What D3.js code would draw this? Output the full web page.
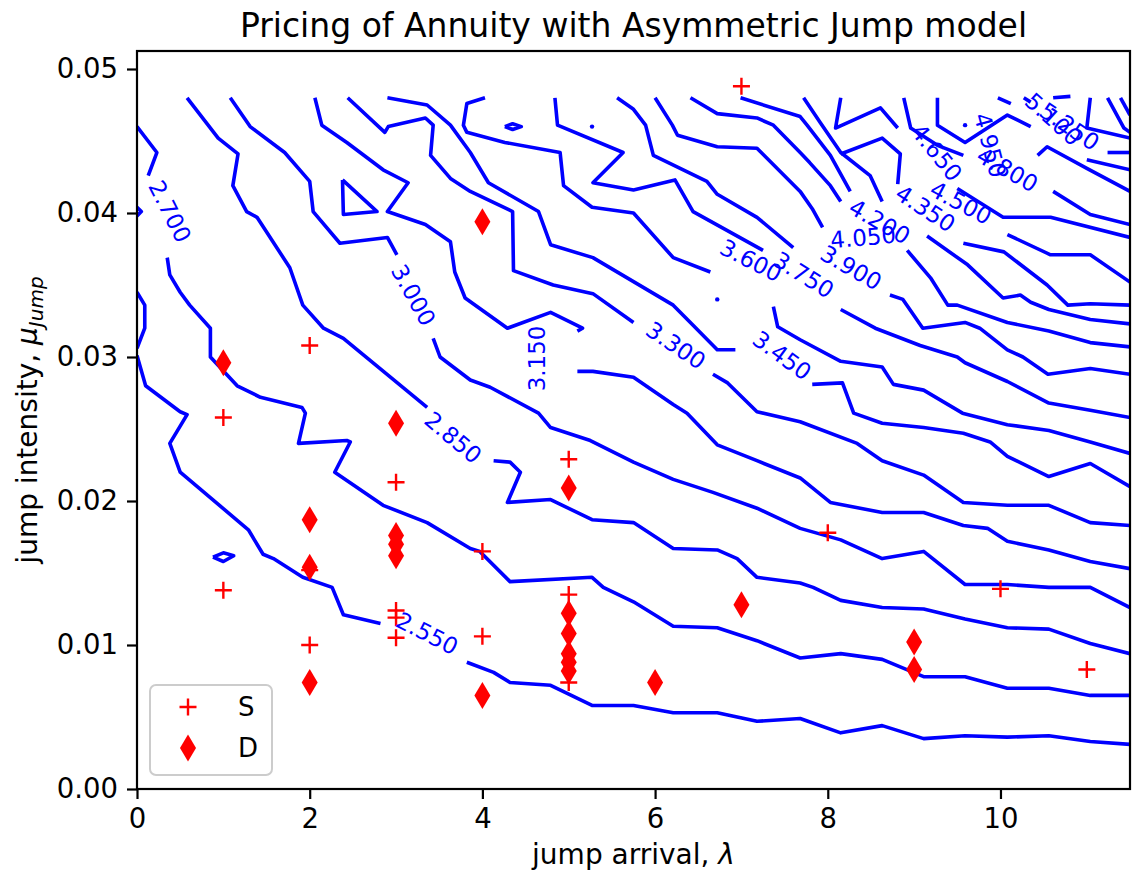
<!DOCTYPE html>
<html>
<head>
<meta charset="utf-8">
<script src="https://cdn.jsdelivr.net/npm/d3@7"></script>
<style>
  body { margin: 0; background: #fff; }
  text { font-family: "DejaVu Sans", sans-serif; }
</style>
</head>
<body>
<svg id="canvas"></svg>
<script>
// ---- data ----
const xTicks = [0, 2, 4, 6, 8, 10];
const yTicks = [0, 0.01, 0.02, 0.03, 0.04, 0.05];

// S markers (jump arrival, jump intensity)
const sPoints = [[7, 0.0488], [2, 0.0308], [1, 0.0258], [3, 0.0213], [5, 0.0229], [4, 0.0165], [8, 0.0178],
  [2, 0.0152], [1, 0.0138], [3, 0.0124], [3, 0.0119], [3, 0.0105], [2, 0.0100], [4, 0.0106], [5, 0.0135],
  [5, 0.0074], [10, 0.0139], [11, 0.0083]];
// D markers
const dPoints = [[1, 0.0296], [3, 0.0254], [4, 0.0394], [5, 0.0209], [2, 0.0187], [3, 0.0176], [3, 0.0170],
  [3, 0.0162], [2, 0.0154], [2, 0.0074], [4, 0.0065], [5, 0.0122], [5, 0.0108], [5, 0.0094], [5, 0.0088],
  [5, 0.0082], [6, 0.0074], [7, 0.0128], [9, 0.0102], [9, 0.0083]];

// contour segments, grouped by level (gaps are where the inline labels sit)
const contourSegments = [
  { level: 2.55, pts: [[0, 0.0345], [0.09, 0.0336], [0.09, 0.032], [0, 0.0306]] },
  { level: 2.55, pts: [[0, 0.0301], [0.1, 0.028], [0.5, 0.0262], [0.58, 0.026], [0.38, 0.024], [0.5, 0.022], [1.29, 0.018], [1.46, 0.0163], [1.58, 0.016], [1.92, 0.0147], [2.26, 0.014], [2.39, 0.0121], [2.82, 0.0115]] },
  { level: 2.55, pts: [[3.82, 0.0088], [4.13, 0.0081], [4.32, 0.0074], [4.79, 0.0072], [5.27, 0.0058], [5.75, 0.0058], [6.21, 0.0053], [6.72, 0.0053], [7.18, 0.0047], [7.68, 0.0049], [8.15, 0.0039], [8.63, 0.0044], [9.11, 0.0035], [9.59, 0.0037], [10.08, 0.0036], [10.56, 0.0037], [11.04, 0.0033], [11.5, 0.0031]] },
  { level: 2.55, pts: [[0.88, 0.0161], [1.0, 0.0164], [1.12, 0.0162], [1.0, 0.0158], [0.88, 0.0161]] },
  { level: 2.70, pts: [[0, 0.046], [0.23, 0.0442], [0.13, 0.0426]] },
  { level: 2.70, pts: [[0, 0.0404], [0.05, 0.0401], [0, 0.0398]] },
  { level: 2.70, pts: [[0.35, 0.0369], [0.38, 0.0357], [0.5, 0.0345], [0.61, 0.0336], [0.85, 0.032], [0.85, 0.030], [1.16, 0.028], [1.43, 0.0272], [1.91, 0.0265], [1.95, 0.0261], [1.87, 0.024], [2.43, 0.0242], [2.47, 0.0241], [2.29, 0.022], [2.85, 0.0197], [3.36, 0.0185], [3.86, 0.0167], [3.97, 0.0165], [4.32, 0.0144], [5.27, 0.0147], [5.4, 0.014], [5.75, 0.013], [6.21, 0.0113], [6.72, 0.0112], [7.18, 0.0103], [7.68, 0.0091], [8.15, 0.0094], [8.63, 0.009], [9.11, 0.0078], [9.59, 0.0078], [10.08, 0.007], [10.56, 0.007], [11.04, 0.0065], [11.5, 0.0065]] },
  { level: 2.85, pts: [[0.58, 0.048], [0.94, 0.0452], [1.17, 0.0441], [1.11, 0.0419], [1.27, 0.0401], [1.39, 0.0397], [1.77, 0.0362], [1.92, 0.0336], [2.16, 0.032], [2.39, 0.0313], [3.36, 0.0265]] },
  { level: 2.85, pts: [[4.13, 0.0228], [4.32, 0.0227], [4.44, 0.022], [4.29, 0.0199], [4.79, 0.0201], [5.27, 0.0187], [5.75, 0.0185], [6.21, 0.0167], [6.72, 0.0166], [6.95, 0.016], [7.18, 0.0147], [7.68, 0.0143], [7.83, 0.014], [8.15, 0.0131], [8.63, 0.0126], [9.11, 0.0125], [9.59, 0.0118], [10.08, 0.0112], [10.56, 0.0111], [11.04, 0.0101], [11.5, 0.0094]] },
  { level: 3.00, pts: [[1.08, 0.048], [1.31, 0.046], [1.71, 0.0442], [2.0, 0.0422], [2.04, 0.0401], [2.35, 0.0379], [2.9, 0.0383], [3.01, 0.0371]] },
  { level: 3.00, pts: [[3.43, 0.0313], [3.51, 0.03], [3.86, 0.0284], [4.09, 0.0279], [4.65, 0.0261], [4.79, 0.0251], [5.25, 0.0242], [5.75, 0.0227], [6.21, 0.0215], [6.67, 0.0206], [7.18, 0.0195], [7.68, 0.0181], [8.15, 0.0173], [8.63, 0.016], [9.11, 0.0165], [9.59, 0.0142], [10.08, 0.0142], [10.56, 0.014], [11.04, 0.014], [11.5, 0.0126]] },
  { level: 3.15, pts: [[2.06, 0.048], [2.14, 0.0461], [2.43, 0.0449], [2.85, 0.043], [3.14, 0.0421], [2.9, 0.0401], [3.34, 0.0392], [3.63, 0.038], [3.68, 0.0359], [3.8, 0.0341], [4.29, 0.032], [4.79, 0.0331], [5.16, 0.032], [5.1, 0.0318]] },
  { level: 3.15, pts: [[5.1, 0.029], [5.28, 0.029], [5.75, 0.0286], [6.21, 0.0267], [6.37, 0.0261], [6.72, 0.0239], [7.18, 0.0228], [7.68, 0.0216], [8.03, 0.0199], [8.63, 0.0192], [9.11, 0.0192], [9.57, 0.0183], [9.85, 0.0181], [10.08, 0.0172], [10.56, 0.0166], [11.04, 0.0158], [11.5, 0.0153]] },
  { level: 3.15, pts: [[2.38, 0.0423], [2.39, 0.0399], [2.78, 0.0401], [2.38, 0.0423]] },
  { level: 3.30, pts: [[2.44, 0.048], [2.87, 0.0456], [2.91, 0.046], [3.34, 0.0466], [3.43, 0.0461], [3.4, 0.044], [3.63, 0.0424], [3.86, 0.0415], [4.35, 0.0401], [4.36, 0.036], [4.82, 0.035], [5.28, 0.0344], [5.75, 0.0324]] },
  { level: 3.30, pts: [[6.67, 0.0288], [6.84, 0.0282], [7.18, 0.0262], [7.68, 0.0255], [8.34, 0.024], [8.63, 0.0228], [9.11, 0.0218], [9.57, 0.0199], [10.08, 0.0197], [10.56, 0.0197], [11.04, 0.0185], [11.5, 0.0183]] },
  { level: 3.45, pts: [[2.9, 0.048], [3.36, 0.0475], [3.63, 0.0461], [3.86, 0.0442], [4.07, 0.0421], [4.65, 0.0401], [4.79, 0.0378], [5.28, 0.0369], [6.21, 0.0336], [6.44, 0.0322], [6.72, 0.0305], [6.93, 0.0305]] },
  { level: 3.45, pts: [[7.82, 0.0281], [8.17, 0.0282], [8.3, 0.0261], [8.63, 0.0254], [9.11, 0.0251], [9.57, 0.0247], [9.88, 0.0241], [10.08, 0.0231], [10.56, 0.0217], [11.04, 0.0226], [11.5, 0.021]] },
  { level: 3.60, pts: [[4.03, 0.048], [3.82, 0.0476], [3.78, 0.0461], [3.82, 0.0456], [4.26, 0.0449], [4.9, 0.0442], [4.94, 0.0419], [5.27, 0.0404], [5.75, 0.04], [6.21, 0.0369], [6.64, 0.0359]] },
  { level: 3.60, pts: [[7.37, 0.0335], [7.42, 0.0321], [7.68, 0.0312], [8.15, 0.0297], [8.63, 0.0293], [8.76, 0.0281], [9.11, 0.0277], [9.56, 0.0261], [10.08, 0.0253], [10.56, 0.0249], [11.04, 0.0241], [11.5, 0.0233]] },
  { level: 3.60, pts: [[4.26, 0.046], [4.35, 0.0462], [4.45, 0.046], [4.35, 0.0458], [4.26, 0.046]] },
  { level: 3.75, pts: [[4.84, 0.048], [4.87, 0.0461], [5.63, 0.0442], [5.28, 0.0421], [5.75, 0.0416], [6.23, 0.0423], [6.44, 0.0401], [7.25, 0.0374]] },
  { level: 3.75, pts: [[8.15, 0.0333], [8.55, 0.032], [9.07, 0.0308], [9.5, 0.03], [9.59, 0.0296], [10.08, 0.0283], [10.56, 0.0268], [11.04, 0.0263], [11.5, 0.0258]] },
  { level: 3.90, pts: [[5.56, 0.048], [5.75, 0.0472], [5.89, 0.0461], [5.98, 0.044], [6.6, 0.0422], [6.72, 0.0413], [7.18, 0.0397], [7.6, 0.0376]] },
  { level: 3.90, pts: [[8.72, 0.0343], [8.87, 0.034], [9.1, 0.032], [9.59, 0.0324], [9.76, 0.032], [10.08, 0.0305], [10.26, 0.03], [10.55, 0.0288], [11.04, 0.0292], [11.5, 0.0288]] },
  { level: 4.05, pts: [[6.0, 0.048], [6.2, 0.0461], [6.26, 0.0454], [6.72, 0.0446], [7.18, 0.0445], [7.68, 0.0415], [7.82, 0.0403], [7.94, 0.039]] },
  { level: 4.05, pts: [[8.92, 0.0374], [9.19, 0.0355], [9.39, 0.0336], [9.5, 0.0336], [10.08, 0.0324], [10.56, 0.0318], [11.04, 0.031], [11.5, 0.0307]] },
  { level: 4.20, pts: [[6.41, 0.048], [6.72, 0.0469], [7.18, 0.0466], [7.37, 0.0461], [7.68, 0.0442], [7.79, 0.0435], [8.03, 0.0419], [8.15, 0.0408]] },
  { level: 4.20, pts: [[9.15, 0.0384], [9.62, 0.0364], [10.03, 0.0341], [10.23, 0.0343], [10.35, 0.0338], [10.56, 0.0333], [11.04, 0.0326], [11.5, 0.0323]] },
  { level: 4.35, pts: [[6.99, 0.048], [7.68, 0.0467], [7.76, 0.0461], [8.03, 0.044], [8.26, 0.0415]] },
  { level: 4.35, pts: [[9.57, 0.0379], [10.04, 0.0373], [10.54, 0.035], [10.78, 0.0336], [11.04, 0.0337], [11.5, 0.0336]] },
  { level: 4.50, pts: [[7.72, 0.048], [7.91, 0.0463], [8.15, 0.0442], [8.49, 0.0426], [8.63, 0.0408]] },
  { level: 4.50, pts: [[10.08, 0.0385], [10.58, 0.0371], [11.04, 0.0371], [11.5, 0.0352]] },
  { level: 4.65, pts: [[8.15, 0.048], [8.09, 0.0459], [8.61, 0.0473], [8.81, 0.0459]] },
  { level: 4.65, pts: [[8.15, 0.0441], [8.63, 0.0452], [8.84, 0.0441], [8.81, 0.042]] },
  { level: 4.65, pts: [[9.5, 0.0417], [10.03, 0.0397], [10.58, 0.0397], [11.5, 0.0383]] },
  { level: 4.80, pts: [[8.88, 0.048], [8.96, 0.0459], [9.27, 0.0447], [9.57, 0.044]] },
  { level: 4.80, pts: [[10.61, 0.0415], [11.04, 0.0399], [11.5, 0.0392]] },
  { level: 4.95, pts: [[9.27, 0.048], [9.27, 0.0461], [9.59, 0.0449], [10.08, 0.0468], [10.35, 0.046]] },
  { level: 4.95, pts: [[10.43, 0.044], [10.54, 0.0446], [11.0, 0.0431], [11.5, 0.0415]] },
  { level: 5.10, pts: [[9.97, 0.048], [10.12, 0.0476]] },
  { level: 5.10, pts: [[10.27, 0.048], [10.35, 0.0477]] },
  { level: 5.10, pts: [[11.0, 0.0437], [11.5, 0.043]] },
  { level: 5.25, pts: [[10.61, 0.048], [10.81, 0.0481]] },
  { level: 5.25, pts: [[11.24, 0.0442], [11.5, 0.0442]] },
  { level: 5.40, pts: [[11.04, 0.048], [11.0, 0.0459], [11.5, 0.0452]] },
  { level: 5.55, pts: [[11.24, 0.048], [11.43, 0.0459], [11.5, 0.0456]] },
  { level: 5.70, pts: [[11.39, 0.048], [11.5, 0.0468]] }
];
// tiny closed contours drawn as dots
const contourDots = [[5.27, 0.046], [6.72, 0.034], [9.59, 0.0461]];

// inline contour labels: [level, lambda, mu, angle]
const contourLabels = [
  [2.70, 0.38, 0.0401, 63], [3.00, 3.2, 0.0343, 61], [2.85, 3.66, 0.0244, 40], [2.55, 3.36, 0.0108, 27],
  [3.15, 4.63, 0.0299, -90], [3.30, 6.24, 0.0308, 34], [3.45, 7.47, 0.0301, 36], [3.60, 7.11, 0.0367, 27],
  [3.75, 7.72, 0.0357, 32], [3.90, 8.27, 0.0362, 30], [4.05, 8.41, 0.0383, -5], [4.20, 8.6, 0.0394, 30],
  [4.35, 9.13, 0.0403, 33], [4.50, 9.54, 0.0407, 28], [4.65, 9.26, 0.0442, 51], [4.80, 10.08, 0.043, 30],
  [4.95, 9.88, 0.0447, 75], [5.10, 10.61, 0.0465, 42], [5.25, 10.8, 0.046, 34]
];

// ---- drawing ----
const width = 1136, height = 875;
const margin = { top: 51, right: 6, bottom: 86, left: 137 };
const innerWidth = width - margin.left - margin.right;
const innerHeight = height - margin.top - margin.bottom;
const blue = "#0000ff", red = "#ff0000";

const svg = d3.select("#canvas").attr("width", width).attr("height", height)
  .attr("viewBox", `0 0 ${width} ${height}`);
svg.append("rect").attr("width", width).attr("height", height).attr("fill", "#fff");

const xScale = d3.scaleLinear().domain([0, 11.5]).range([margin.left, margin.left + innerWidth]);
const yScale = d3.scaleLinear().domain([0, 0.05125]).range([margin.top + innerHeight, margin.top]);

svg.append("defs").append("clipPath").attr("id", "plotClip")
  .append("rect").attr("x", margin.left).attr("y", margin.top)
  .attr("width", innerWidth).attr("height", innerHeight);

const plot = svg.append("g").attr("clip-path", "url(#plotClip)");

const line = d3.line().x(d => xScale(d[0])).y(d => yScale(d[1]));

plot.selectAll("path.contour")
  .data(contourSegments)
  .join("path")
  .attr("class", "contour")
  .attr("d", d => line(d.pts))
  .attr("fill", "none")
  .attr("stroke", blue)
  .attr("stroke-width", 3.6)
  .attr("stroke-linejoin", "round");

plot.selectAll("circle.dot")
  .data(contourDots)
  .join("circle")
  .attr("class", "dot")
  .attr("cx", d => xScale(d[0]))
  .attr("cy", d => yScale(d[1]))
  .attr("r", 2.2)
  .attr("fill", blue);

const plusPath = "M-8.5,0H8.5M0,-8.5V8.5";
const diamondPath = "M0,-13.5L8,0L0,13.5L-8,0Z";

plot.selectAll("path.s")
  .data(sPoints)
  .join("path")
  .attr("class", "s")
  .attr("transform", d => `translate(${xScale(d[0])},${yScale(d[1])})`)
  .attr("d", plusPath)
  .attr("stroke", red)
  .attr("stroke-width", 2.4)
  .attr("fill", "none");

plot.selectAll("path.d")
  .data(dPoints)
  .join("path")
  .attr("class", "d")
  .attr("transform", d => `translate(${xScale(d[0])},${yScale(d[1])})`)
  .attr("d", diamondPath)
  .attr("fill", red);

// contour labels sit inside the frame, no clipping needed
svg.append("g").selectAll("text.clabel")
  .data(contourLabels)
  .join("text")
  .attr("class", "clabel")
  .attr("transform", d => `translate(${xScale(d[1])},${yScale(d[2])}) rotate(${d[3]})`)
  .attr("text-anchor", "middle")
  .attr("dominant-baseline", "central")
  .attr("fill", blue)
  .style("font-size", "23px")
  .text(d => d[0].toFixed(3));

// axes
const xAxis = d3.axisBottom(xScale).tickValues(xTicks).tickSize(10).tickPadding(9).tickFormat(d3.format("d"));
const yAxis = d3.axisLeft(yScale).tickValues(yTicks).tickSize(10).tickPadding(9).tickFormat(d3.format(".2f"));

svg.append("g")
  .attr("transform", `translate(0,${margin.top + innerHeight})`)
  .call(xAxis)
  .call(g => g.select(".domain").remove())
  .call(g => g.selectAll("line").attr("stroke", "#000").attr("stroke-width", 2.2))
  .call(g => g.selectAll("text").attr("fill", "#000").style("font-size", "27.5px").style("font-family", "DejaVu Sans"));

svg.append("g")
  .attr("transform", `translate(${margin.left},0)`)
  .call(yAxis)
  .call(g => g.select(".domain").remove())
  .call(g => g.selectAll("line").attr("stroke", "#000").attr("stroke-width", 2.2))
  .call(g => g.selectAll("text").attr("fill", "#000").style("font-size", "27.5px").style("font-family", "DejaVu Sans"));

svg.append("rect")
  .attr("x", margin.left).attr("y", margin.top)
  .attr("width", innerWidth).attr("height", innerHeight)
  .attr("fill", "none").attr("stroke", "#000").attr("stroke-width", 2.2);

// title and axis labels
svg.append("text")
  .attr("x", margin.left + innerWidth / 2).attr("y", 37)
  .attr("text-anchor", "middle")
  .style("font-size", "33px")
  .text("Pricing of Annuity with Asymmetric Jump model");

const xLabel = svg.append("text")
  .attr("x", margin.left + innerWidth / 2).attr("y", 864)
  .attr("text-anchor", "middle")
  .style("font-size", "28px");
xLabel.append("tspan").text("jump arrival, ");
xLabel.append("tspan").style("font-style", "italic").text("λ");

const yLabel = svg.append("text")
  .attr("transform", `translate(37,${margin.top + innerHeight / 2}) rotate(-90)`)
  .attr("text-anchor", "middle")
  .style("font-size", "28px");
yLabel.append("tspan").text("jump intensity, ");
yLabel.append("tspan").style("font-style", "italic").text("μ");
yLabel.append("tspan").style("font-style", "italic").style("font-size", "20px").attr("dy", 6).text("Jump");

// legend
const legend = svg.append("g").attr("transform", "translate(150,685)");
legend.append("rect")
  .attr("width", 122).attr("height", 90).attr("rx", 6)
  .attr("fill", "#fff").attr("fill-opacity", 0.8)
  .attr("stroke", "#cccccc").attr("stroke-width", 2);
const legendItems = [["S", plusPath], ["D", diamondPath]];
legendItems.forEach(([name, shape], i) => {
  const cy = 22 + i * 41;
  const p = legend.append("path").attr("transform", `translate(38,${cy})`).attr("d", shape);
  if (name === "S") p.attr("stroke", red).attr("stroke-width", 2.4).attr("fill", "none");
  else p.attr("fill", red);
  legend.append("text").attr("x", 88).attr("y", cy).attr("dominant-baseline", "central")
    .style("font-size", "26px").text(name);
});
</script>
</body>
</html>
